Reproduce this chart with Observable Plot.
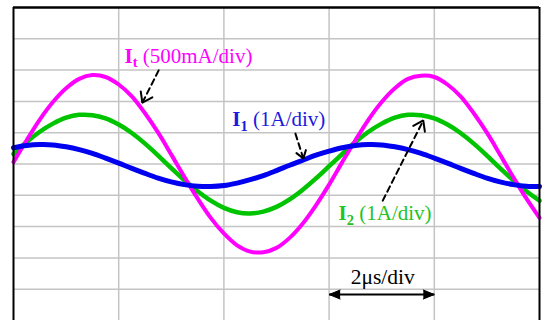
<!DOCTYPE html>
<html>
<head>
<meta charset="utf-8">
<script src="https://cdn.jsdelivr.net/npm/d3@7"></script>
<script src="https://cdn.jsdelivr.net/npm/@observablehq/plot@0.6"></script>
<style>
  html, body { margin: 0; padding: 0; background: #fff; }
  #chart svg { display: block; }
</style>
</head>
<body>
<div id="chart"></div>
<script>
// Sample instants across the 10 µs screen (µs)
const time = d3.range(41).map(i => i * 0.25);

// Traces, in amperes
const It = [0.03, 0.38, 0.71, 0.99, 1.21, 1.36, 1.42, 1.39, 1.27, 1.08, 0.81, 0.50, 0.15, -0.21, -0.55, -0.86, -1.11, -1.30, -1.40, -1.41, -1.34, -1.18, -0.95, -0.66, -0.33,
            0.03, 0.38, 0.71, 0.99, 1.21, 1.36, 1.41, 1.39, 1.27, 1.08, 0.81, 0.50, 0.15, -0.21, -0.55, -0.86];
const I1 = [0.52, 0.59, 0.62, 0.61, 0.55, 0.46, 0.34, 0.19, 0.03, -0.14, -0.30, -0.45, -0.57, -0.66, -0.71, -0.72, -0.69, -0.61, -0.50, -0.37, -0.21, -0.04, 0.12, 0.28, 0.41,
            0.52, 0.59, 0.62, 0.61, 0.55, 0.46, 0.34, 0.19, 0.03, -0.14, -0.30, -0.45, -0.57, -0.66, -0.71, -0.72];
const I2 = [0.32, 0.70, 1.03, 1.29, 1.48, 1.57, 1.56, 1.46, 1.26, 0.99, 0.65, 0.27, -0.13, -0.52, -0.87, -1.17, -1.40, -1.54, -1.58, -1.52, -1.37, -1.13, -0.82, -0.46, -0.07,
            0.32, 0.70, 1.03, 1.29, 1.48, 1.57, 1.56, 1.46, 1.26, 0.99, 0.65, 0.27, -0.13, -0.52, -0.87, -1.17];

// Probe sensitivities (A per division)
const perDivIt = 0.5;
const perDivI1 = 1;
const perDivI2 = 1;

// Graticule
const xDivs = [2, 4, 6, 8];            // µs
const yDivs = [-4, -3, -2, -1, 0, 1, 2, 3, 4];
const timeBase = "2μs/div";

// Trace labels: bold symbol, bold subscript, plain sensitivity
const labels = [
  {main: "I", sub: "t", rest: " (500mA/div)"},
  {main: "I", sub: "1", rest: " (1A/div)"},
  {main: "I", sub: "2", rest: " (1A/div)"}
];
const plain = l => l.main + l.sub + l.rest;

const toDivs = (values, perDiv) => values.map((v, i) => ({t: time[i], div: v / perDiv}));

const serif = "'Liberation Serif', 'Times New Roman', serif";
const magenta = "#ff00ff", green = "#00c400", blue = "#0000f0";

// Pointers from each label to its trace, in (µs, div)
const pointers = [
  {x1: 2.76, y1: 2.99, x2: 2.45, y2: 1.96},
  {x1: 5.36, y1: 0.97, x2: 5.51, y2: 0.18},
  {x1: 7.02, y1: -1.17, x2: 7.79, y2: 1.39}
];

const svg = Plot.plot({
  width: 542,
  height: 320,
  marginLeft: 13,
  marginRight: 3,
  marginTop: 7,
  marginBottom: 0,
  x: {domain: [0, 10], axis: null},
  y: {domain: [-5, 5], axis: null},
  style: {background: "#fff"},
  marks: [
    Plot.ruleX(xDivs, {stroke: "#c4c4c4", strokeWidth: 1.5}),
    Plot.ruleY(yDivs, {stroke: "#c4c4c4", strokeWidth: 1.5}),

    Plot.line(toDivs(I2, perDivI2), {x: "t", y: "div", stroke: green, strokeWidth: 4.5, curve: "catmull-rom"}),
    Plot.line(toDivs(It, perDivIt), {x: "t", y: "div", stroke: magenta, strokeWidth: 4, curve: "catmull-rom"}),
    Plot.line(toDivs(I1, perDivI1), {x: "t", y: "div", stroke: blue, strokeWidth: 5, curve: "catmull-rom"}),

    // screen frame (left, right, top)
    Plot.ruleX([0, 10], {stroke: "#000", strokeWidth: 2}),
    Plot.ruleY([5], {stroke: "#000", strokeWidth: 2.5}),

    // trace labels
    Plot.text([labels[0]], {x: 2.11, y: 3.24, text: plain, fill: magenta, fontSize: 21, fontFamily: serif, textAnchor: "start", lineAnchor: "bottom"}),
    Plot.text([labels[1]], {x: 4.16, y: 1.21, text: plain, fill: "#1a1ae0", fontSize: 21, fontFamily: serif, textAnchor: "start", lineAnchor: "bottom"}),
    Plot.text([labels[2]], {x: 6.18, y: -1.79, text: plain, fill: "#22c322", fontSize: 21, fontFamily: serif, textAnchor: "start", lineAnchor: "bottom"}),

    // pointers (shaft dashed below)
    Plot.arrow(pointers, {x1: "x1", y1: "y1", x2: "x2", y2: "y2", stroke: "#000", strokeWidth: 2, headLength: 8.5, headAngle: 70}),

    // time-base marker spanning one division
    Plot.link([{a: 6, b: 8}], {x1: "a", x2: "b", y1: -4.17, y2: -4.17, stroke: "#000", strokeWidth: 2}),
    Plot.vector([{x: 6}], {x: "x", y: -4.17, rotate: -90, length: 11, r: 4.5, shape: "spike", anchor: "end", fill: "#000", stroke: "#000", strokeWidth: 1}),
    Plot.vector([{x: 8}], {x: "x", y: -4.17, rotate: 90, length: 11, r: 4.5, shape: "spike", anchor: "end", fill: "#000", stroke: "#000", strokeWidth: 1}),
    Plot.text([timeBase], {x: 7.02, y: -3.82, text: d => d, fill: "#000", fontSize: 21.5, fontFamily: serif, textAnchor: "middle", lineAnchor: "bottom"})
  ]
});

// Typeset the trace labels with a bold symbol and a lowered subscript
d3.select(svg).selectAll('g[aria-label="text"] text').each(function () {
  const lab = labels.find(l => plain(l) === this.textContent);
  if (!lab) return;
  const t = d3.select(this).text("");
  t.append("tspan").attr("font-weight", "bold").text(lab.main);
  t.append("tspan").attr("font-weight", "bold").attr("font-size", "14.5px").attr("dy", "4.5px").text(lab.sub);
  t.append("tspan").attr("dy", "-4.5px").text(lab.rest);
});

// Split each pointer into a dashed shaft and a solid head
d3.select(svg).selectAll('g[aria-label="arrow"] path').each(function () {
  const d = this.getAttribute("d");
  const cut = d.indexOf("M", 1);
  if (cut < 0) return;
  const head = this.cloneNode();
  head.setAttribute("d", d.slice(cut));
  this.setAttribute("d", d.slice(0, cut));
  this.setAttribute("stroke-dasharray", "6,4");
  this.parentNode.appendChild(head);
});

document.getElementById("chart").appendChild(svg);
</script>
</body>
</html>
